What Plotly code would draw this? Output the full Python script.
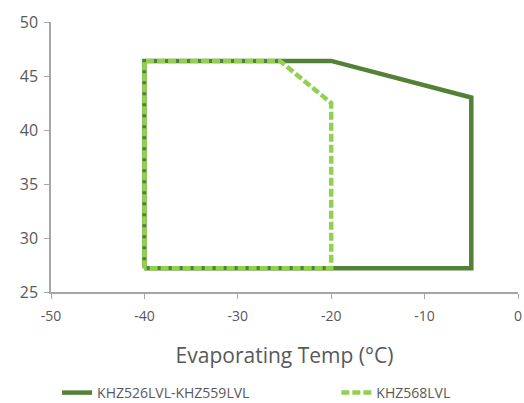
import plotly.graph_objects as go

# Series data (Evaporating temp, Condensing temp)
khz526_x = [-40, -40, -20, -5, -5, -40]
khz526_y = [27.2, 46.4, 46.4, 43.0, 27.2, 27.2]
khz568_x = [-40, -40, -25.5, -20, -20, -40]
khz568_y = [27.2, 46.4, 46.4, 42.5, 27.2, 27.2]

x_ticks = [-50, -40, -30, -20, -10, 0]
x_tick_labels = ["-50", "-40", "-30", "-20", "-10", "0"]
y_ticks = [25, 30, 35, 40, 45, 50]
y_tick_labels = ["25", "30", "35", "40", "45", "50"]

FONT = "Open Sans"
GRAY = "#595959"

fig = go.Figure()
fig.add_trace(go.Scatter(x=khz526_x, y=khz526_y, mode="lines",
                         name="KHZ526LVL-KHZ559LVL", legend="legend",
                         line=dict(color="#538135", width=4.5)))
fig.add_trace(go.Scatter(x=khz568_x, y=khz568_y, mode="lines",
                         name="KHZ568LVL", legend="legend2",
                         line=dict(color="#92d050", width=4.5, dash="8px,3px")))

leg_common = dict(orientation="h", yanchor="middle", y=-0.374,
                  font=dict(size=14, color=GRAY), itemwidth=30,
                  bgcolor="rgba(0,0,0,0)")

fig.update_layout(
    width=524, height=403,
    margin=dict(l=51, r=6, t=22, b=111, autoexpand=False),
    plot_bgcolor="white", paper_bgcolor="white",
    font=dict(family=FONT, color=GRAY, size=14),
    showlegend=True,
    legend=dict(x=0.013, xanchor="left", **leg_common),
    legend2=dict(x=0.611, xanchor="left", **leg_common),
)
fig.update_xaxes(range=[-50, 0], tickvals=x_ticks, ticktext=x_tick_labels,
                 showgrid=False, zeroline=False,
                 showline=True, linecolor="#a6a6a6", linewidth=1.5,
                 ticks="outside", tickcolor="#a6a6a6", ticklen=5,
                 ticklabelstandoff=5,
                 tickfont=dict(size=14, color=GRAY),
                 title=dict(text="Evaporating Temp (°C)", font=dict(size=21, color=GRAY), standoff=25))
fig.update_yaxes(range=[25, 50], tickvals=y_ticks, ticktext=y_tick_labels,
                 showgrid=False, zeroline=False,
                 showline=True, linecolor="#a6a6a6", linewidth=1.5,
                 ticks="outside", tickcolor="#a6a6a6", ticklen=5,
                 ticklabelstandoff=3,
                 tickfont=dict(size=16, color=GRAY))

fig.write_html(
    "out.html",
    config={"displayModeBar": False},
    post_script="document.body.style.margin='0';document.body.style.overflow='hidden';",
)
